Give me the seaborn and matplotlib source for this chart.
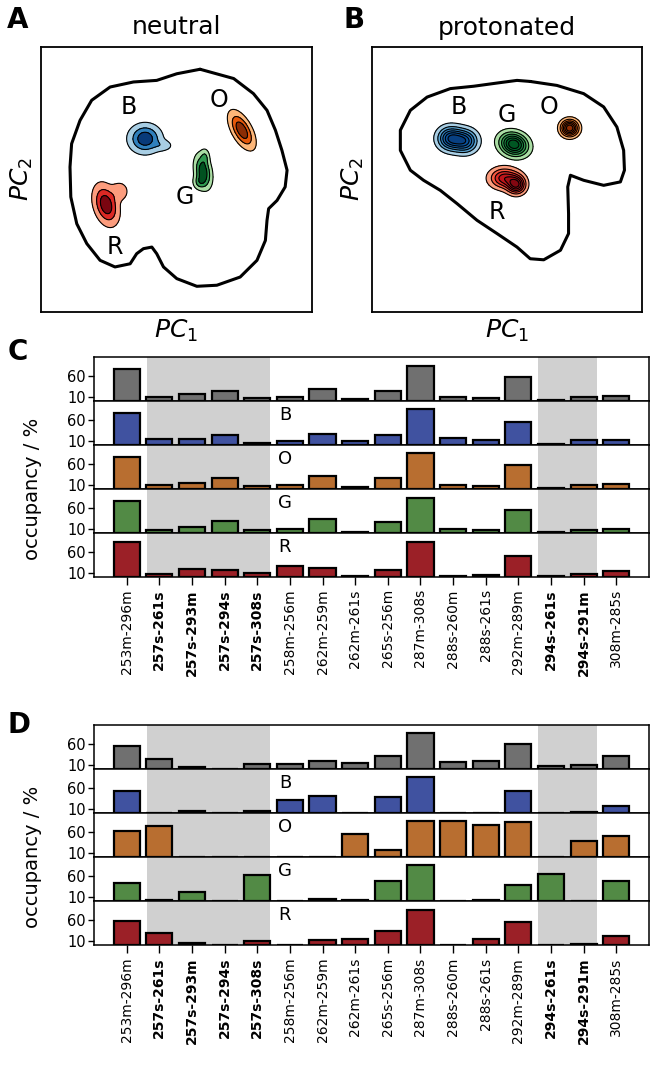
import numpy as np
import pandas as pd
import seaborn as sns
import matplotlib
matplotlib.use('Agg')
import matplotlib.pyplot as plt
from matplotlib.colors import ListedColormap

# ---- bar data (occupancy in %) ----
pairs = ['253m-296m', '257s-261s', '257s-293m', '257s-294s', '257s-308s',
         '258m-256m', '262m-259m', '262m-261s', '265s-256m', '287m-308s',
         '288s-260m', '288s-261s', '292m-289m', '294s-261s', '294s-291m',
         '308m-285s']
bold_pairs = ['257s-261s', '257s-293m', '257s-294s', '257s-308s',
              '294s-261s', '294s-291m']
rows = ['all', 'B', 'O', 'G', 'R']

neutral_all = [76.5, 9, 15.5, 24.5, 6, 9, 27.5, 4, 23.5, 84.5, 10, 7.5, 56.5, 1, 10, 12]
neutral_B = [77.5, 13, 14, 22.5, 4, 9, 26.5, 8, 23.5, 85.5, 16, 12, 55.5, 0.5, 10.5, 11.5]
neutral_O = [75.5, 8, 14.5, 25.5, 6, 9, 31.5, 4, 26, 85.5, 10, 7.5, 56.5, 1, 9, 11.5]
neutral_G = [76.5, 7.5, 13, 29, 6.5, 8, 33, 2.5, 25, 84, 9, 6, 55, 0.5, 7.5, 10]
neutral_R = [82.5, 6.5, 18, 16, 9, 26.5, 21, 1, 17, 82.5, 2.5, 5, 49.5, 0.5, 6.5, 14]

prot_all = [56.5, 24.5, 6, 0.5, 12, 12, 19.5, 16, 32.5, 87.5, 18.5, 21, 61.5, 8, 11.5, 31.5]
prot_B = [54, 0, 6, 0, 6, 33, 41, 0, 38.5, 87, 0, 0, 54, 0, 4, 18]
prot_O = [64.5, 75, 0, 0, 0, 0, 0, 55.5, 18.5, 88, 88, 78.5, 85.5, 0, 38.5, 52.5]
prot_G = [44.5, 4, 22, 0, 63, 0, 6.5, 2.5, 48.5, 86.5, 0, 2.5, 38.5, 65.5, 1.5, 50]
prot_R = [57.5, 30.5, 5, 0, 11.5, 0, 12, 14.5, 34, 85.5, 0, 14, 55.5, 1.5, 3, 22.5]

# ---- landscape outlines (PC1, PC2 in axis fractions) ----
outline_neutral_x = [0.587, 0.711, 0.784, 0.834, 0.865, 0.889, 0.908, 0.901, 0.871,
                     0.840, 0.834, 0.828, 0.797, 0.735, 0.649, 0.575, 0.501, 0.452,
                     0.427, 0.409, 0.378, 0.353, 0.329, 0.273, 0.218, 0.169, 0.132,
                     0.110, 0.107, 0.113, 0.144, 0.187, 0.255, 0.341, 0.427, 0.501]
outline_neutral_y = [0.916, 0.881, 0.824, 0.761, 0.686, 0.610, 0.535, 0.472, 0.421,
                     0.390, 0.346, 0.270, 0.195, 0.132, 0.101, 0.097, 0.126, 0.170,
                     0.220, 0.245, 0.239, 0.220, 0.182, 0.170, 0.195, 0.258, 0.333,
                     0.434, 0.547, 0.635, 0.723, 0.799, 0.849, 0.868, 0.874, 0.899]
outline_prot_x = [0.586, 0.685, 0.784, 0.858, 0.907, 0.932, 0.935, 0.920, 0.858,
                  0.784, 0.735, 0.725, 0.728, 0.728, 0.698, 0.636, 0.586, 0.537,
                  0.463, 0.389, 0.315, 0.253, 0.191, 0.142, 0.105, 0.105, 0.142,
                  0.204, 0.290, 0.377, 0.463, 0.537]
outline_prot_y = [0.870, 0.855, 0.824, 0.774, 0.698, 0.610, 0.535, 0.491, 0.478,
                  0.497, 0.516, 0.472, 0.371, 0.296, 0.233, 0.197, 0.201, 0.245,
                  0.296, 0.346, 0.409, 0.459, 0.497, 0.535, 0.610, 0.686, 0.761,
                  0.811, 0.843, 0.852, 0.864, 0.874]

# state label positions
state_names = ['B', 'O', 'G', 'R']
label_neutral = [(0.323, 0.774), (0.655, 0.799), (0.532, 0.434), (0.273, 0.245)]
label_prot = [(0.321, 0.774), (0.654, 0.774), (0.500, 0.742), (0.463, 0.377)]

# density blobs: (cx, cy, sx, sy, angle, weight)
blobs_neutral = {
    'B': [(0.384, 0.654, 0.033, 0.030, 0, 1.0), (0.450, 0.628, 0.022, 0.013, 0, 0.25)],
    'O': [(0.741, 0.686, 0.042, 0.019, -62, 1.0)],
    'G': [(0.598, 0.530, 0.017, 0.036, 10, 1.0), (0.605, 0.585, 0.010, 0.018, 0, 0.35),
          (0.585, 0.490, 0.014, 0.016, 0, 0.45)],
    'R': [(0.240, 0.405, 0.024, 0.043, 15, 1.0), (0.290, 0.455, 0.020, 0.022, 0, 0.30)],
}
blobs_prot = {
    'B': [(0.290, 0.655, 0.030, 0.028, 0, 1.0), (0.345, 0.645, 0.030, 0.028, 0, 0.9)],
    'O': [(0.732, 0.694, 0.021, 0.020, 0, 1.0)],
    'G': [(0.525, 0.633, 0.034, 0.027, -20, 1.0)],
    'R': [(0.490, 0.505, 0.035, 0.025, 0, 0.8), (0.535, 0.480, 0.022, 0.022, 0, 1.0)],
}

row_colors = ['#707070', '#4052a0', '#b86e30', '#528a45', '#9b2027']
blob_cmaps = {'B': 'Blues', 'O': 'Oranges', 'G': 'Greens', 'R': 'Reds'}
shade_spans = [(0.62, 4.38), (12.6, 14.4)]

sns.set_style('ticks')
plt.rcParams['font.family'] = ['DejaVu Sans']
plt.rcParams['text.color'] = 'black'
plt.rcParams['axes.labelcolor'] = 'black'
plt.rcParams['xtick.color'] = 'black'
plt.rcParams['ytick.color'] = 'black'
plt.rcParams['axes.edgecolor'] = 'black'

W_PX, H_PX = 664, 1075
fig = plt.figure(figsize=(W_PX / 100, H_PX / 100), dpi=100)

gx, gy = np.meshgrid(np.linspace(0, 1, 400), np.linspace(0, 1, 400))


def blob_field(comps):
    z = np.zeros_like(gx)
    for cx, cy, sx, sy, ang, w in comps:
        a = np.deg2rad(ang)
        dx = (gx - cx) * np.cos(a) + (gy - cy) * np.sin(a)
        dy = -(gx - cx) * np.sin(a) + (gy - cy) * np.cos(a)
        z += w * np.exp(-0.5 * ((dx / sx) ** 2 + (dy / sy) ** 2))
    return z / z.max()


def draw_landscape(rect, ox, oy, blobs, labels, title, levels, shades):
    ax = fig.add_axes(rect)
    ax.plot(ox + ox[:1], oy + oy[:1], color='black', lw=2.2,
            solid_joinstyle='round')
    for name in state_names:
        z = blob_field(blobs[name])
        cols = sns.color_palette(blob_cmaps[name], 100)
        cmap = ListedColormap([cols[int(s * 99)] for s in shades])
        ax.contourf(gx, gy, z, levels=levels, cmap=cmap)
        ax.contour(gx, gy, z, levels=levels[:-1], colors='black', linewidths=0.8)
    for name, (lx, ly) in zip(state_names, labels):
        ax.text(lx, ly, name, fontsize=17, ha='center', va='center')
    ax.set_xlim(0, 1)
    ax.set_ylim(0, 1)
    ax.set_xticks([])
    ax.set_yticks([])
    for s in ax.spines.values():
        s.set_linewidth(1.3)
    ax.set_title(title, fontsize=18, pad=9)
    ax.set_xlabel('$PC_1$', fontsize=18)
    ax.set_ylabel('$PC_2$', fontsize=18)
    return ax


draw_landscape([41 / W_PX, 1 - 312 / H_PX, 271 / W_PX, 265 / H_PX],
               outline_neutral_x, outline_neutral_y, blobs_neutral, label_neutral,
               'neutral', [0.12, 0.4, 0.72, 1.01], [0.35, 0.7, 0.97])
draw_landscape([372 / W_PX, 1 - 312 / H_PX, 270 / W_PX, 265 / H_PX],
               outline_prot_x, outline_prot_y, blobs_prot, label_prot,
               'protonated', [0.1, 0.25, 0.4, 0.55, 0.7, 0.85, 1.01],
               [0.35, 0.55, 0.7, 0.8, 0.88, 0.95])


def long_table(series):
    frames = [pd.DataFrame({'pair': pairs, 'row': name, 'occupancy': vals})
              for name, vals in zip(rows, series)]
    return pd.concat(frames, ignore_index=True)


df_neutral = long_table([neutral_all, neutral_B, neutral_O, neutral_G, neutral_R])
df_prot = long_table([prot_all, prot_B, prot_O, prot_G, prot_R])

LEFT, RIGHT, ROW_H = 94, 649, 44


def draw_bars(df, top):
    for i, (name, col) in enumerate(zip(rows, row_colors)):
        ax = fig.add_axes([LEFT / W_PX, 1 - (top + ROW_H * (i + 1)) / H_PX,
                           (RIGHT - LEFT) / W_PX, ROW_H / H_PX])
        sns.barplot(data=df[df.row == name], x='pair', y='occupancy', color=col,
                    saturation=1, edgecolor='black', linewidth=1.6, width=0.8,
                    errorbar=None, ax=ax, zorder=2)
        for a, b in shade_spans:
            ax.axvspan(a, b, color='#d0d0d0', lw=0, zorder=0)
        ax.set_xlim(-1, 16)
        ax.set_ylim(0, 106)
        ax.set_yticks([10, 60])
        ax.tick_params(axis='y', labelsize=10.5, length=4, width=1, pad=2)
        ax.set_ylabel('')
        ax.set_xlabel('')
        for s in ax.spines.values():
            s.set_linewidth(1.1)
        if name != 'all':
            ax.text(4.85, 0.68, name, transform=ax.get_xaxis_transform(),
                    fontsize=13, ha='center', va='center')
        if i < len(rows) - 1:
            ax.tick_params(axis='x', bottom=False, labelbottom=False)
        else:
            ax.tick_params(axis='x', labelsize=10, length=6, width=1, pad=3)
            ax.set_xticks(range(len(pairs)))
            ax.set_xticklabels(pairs, rotation=90)
            for lbl in ax.get_xticklabels():
                if lbl.get_text() in bold_pairs:
                    lbl.set_fontweight('bold')
    fig.text(32 / W_PX, 1 - (top + 132) / H_PX, 'occupancy / %', rotation=90,
             fontsize=14, ha='center', va='center')


draw_bars(df_neutral, 356.7)
draw_bars(df_prot, 725.3)

for letter, x, y in [('A', 7, 20), ('B', 343, 20), ('C', 8, 352), ('D', 8, 725)]:
    fig.text(x / W_PX, 1 - y / H_PX, letter, fontsize=20, fontweight='bold',
             ha='left', va='center')

fig.savefig('out.png', dpi=100)
